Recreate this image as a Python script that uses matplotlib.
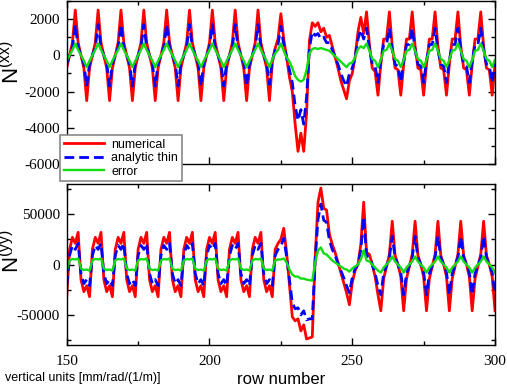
import numpy as np
import matplotlib.pyplot as plt
from matplotlib.ticker import MultipleLocator

plt.rcParams['font.family'] = 'Liberation Sans'
plt.rcParams['mathtext.fontset'] = 'custom'
plt.rcParams['mathtext.rm'] = 'Liberation Sans'
plt.rcParams['axes.unicode_minus'] = False

# row numbers along the x axis
rows = np.arange(150, 301)

# N(xx), top panel
nxx_numerical = [
    -700,
    0, 700, 2500, 700, 0, -700, -2500, -700,
    0, 700, 2500, 700, 0, -700, -2500, -700,
    0, 700, 2500, 700, 0, -700, -2500, -700,
    0, 700, 2500, 700, 0, -700, -2500, -700,
    0, 700, 2500, 700, 0, -700, -2500, -700,
    0, 700, 2500, 700, 0, -700, -2500, -700,
    0, 700, 2500, 700, 0, -700, -2500, -700,
    0, 700, 2500, 700, 0, -700, -2500, -700,
    0, 700, 2500, 700,
    0, -700, -2500, -400, 400, 900, 2300, 900,
    -100, -1200, -2000, -3800, -5300, -4300, -5300, -3200, 800,
    1800, 1600, 1800, 1300, 1500, 1000, 1100, 500, -100, -700, -1400, -1900, -2400, -1400,
    -1000, -100, 1300, 2100, 1200, 2400, 600, -700, -900,
    -2200, -500, 900, 900, 2400, 500, -700, -800,
    -2200, -500, 900, 900, 2400, 500, -700, -800,
    -2200, -500, 900, 900, 2400, 500, -700, -800,
    -2200, -500, 900, 900, 2400, 500, -700, -800,
    -2200, -500, 900, 900, 2400, 500, -700, -800,
    -2200, -500,
]
nxx_thin = [
    -450,
    0, 450, 1700, 450, 0, -450, -1700, -450,
    0, 450, 1700, 450, 0, -450, -1700, -450,
    0, 450, 1700, 450, 0, -450, -1700, -450,
    0, 450, 1700, 450, 0, -450, -1700, -450,
    0, 450, 1700, 450, 0, -450, -1700, -450,
    0, 450, 1700, 450, 0, -450, -1700, -450,
    0, 450, 1700, 450, 0, -450, -1700, -450,
    0, 450, 1700, 450, 0, -450, -1700, -450,
    0, 450, 1700, 450,
    0, -450, -1600, -300, 300, 600, 1600, 600,
    -100, -800, -1500, -2800, -3600, -3000, -3800, -2300, 400,
    1300, 1100, 1200, 900, 1000, 700, 700, 300, -100, -500, -1000, -1400, -1700, -1000,
    -700, -100, 900, 1400, 900, 1500, 400, -500, -600,
    -1500, -300, 600, 600, 1500, 300, -500, -600,
    -1500, -300, 600, 600, 1500, 300, -500, -600,
    -1500, -300, 600, 600, 1500, 300, -500, -600,
    -1500, -300, 600, 600, 1500, 300, -500, -600,
    -1500, -300, 600, 600, 1500, 300, -500, -600,
    -1500, -300,
]
nxx_error = [
    -300,
    0, 300, 650, 300, 0, -300, -650, -300,
    0, 300, 650, 300, 0, -300, -650, -300,
    0, 300, 650, 300, 0, -300, -650, -300,
    0, 300, 650, 300, 0, -300, -650, -300,
    0, 300, 650, 300, 0, -300, -650, -300,
    0, 300, 650, 300, 0, -300, -650, -300,
    0, 300, 650, 300, 0, -300, -650, -300,
    0, 300, 650, 300, 0, -300, -650, -300,
    0, 300, 650, 300,
    0, -300, -650, -200, 100, 300, 650, 250,
    -100, -350, -700, -1150, -1350, -1450, -1350, -800, 100,
    350, 400, 350, 400, 350, 300, 250, 100, -50, -200, -350, -500, -650, -450,
    -400, -100, 350, 500, 400, 650, 250, -200, -300,
    -650, -250, 250, 300, 650, 250, -200, -300,
    -650, -250, 250, 300, 650, 250, -200, -300,
    -650, -250, 250, 300, 650, 250, -200, -300,
    -650, -250, 250, 300, 650, 250, -200, -300,
    -650, -250, 250, 300, 650, 250, -200, -300,
    -650, -250,
]

# N(yy), bottom panel
nyy_numerical = [
    -32000,
    15000, 27000, 21000, 32000, -15000, -27000, -21000, -32000,
    15000, 27000, 21000, 32000, -15000, -27000, -21000, -32000,
    15000, 27000, 21000, 32000, -15000, -27000, -21000, -32000,
    15000, 27000, 21000, 32000, -15000, -27000, -21000, -32000,
    15000, 27000, 21000, 32000, -15000, -27000, -21000, -32000,
    15000, 27000, 21000, 32000, -15000, -27000, -21000, -32000,
    15000, 27000, 21000, 32000, -15000, -27000, -21000, -32000,
    15000, 27000, 21000, 32000, -15000, -27000, -21000, -32000,
    15000, 27000, 21000, 32000,
    -15000, -27000, -21000, -32000, 15000, 21000, 25000, 36000,
    12000, -20000, -52000, -56000, -54000, -66000, -60000, -74000, -73000, -72000,
    6000, 62000, 76000, 56000, 54000, 30000, 20000, 12000, 2000, -8000, -18000, -28000, -40000,
    -18000, -6000, 0, 20000, 62000, 12000, 10000, 0, -12000, -30000,
    -46000, -14000, -2000, 10000, 43000, 9000, 0, -12000,
    -46000, -14000, -2000, 10000, 43000, 9000, 0, -12000,
    -46000, -14000, -2000, 10000, 43000, 9000, 0, -12000,
    -46000, -14000, -2000, 10000, 43000, 9000, 0, -12000,
    -46000, -14000, -2000, 10000, 43000, 9000, 0, -12000,
    -46000,
]
nyy_thin = [
    -21000,
    9000, 19000, 15000, 21000, -9000, -19000, -15000, -21000,
    9000, 19000, 15000, 21000, -9000, -19000, -15000, -21000,
    9000, 19000, 15000, 21000, -9000, -19000, -15000, -21000,
    9000, 19000, 15000, 21000, -9000, -19000, -15000, -21000,
    9000, 19000, 15000, 21000, -9000, -19000, -15000, -21000,
    9000, 19000, 15000, 21000, -9000, -19000, -15000, -21000,
    9000, 19000, 15000, 21000, -9000, -19000, -15000, -21000,
    9000, 19000, 15000, 21000, -9000, -19000, -15000, -21000,
    9000, 19000, 15000, 21000,
    -9000, -19000, -15000, -21000, 9000, 15000, 18000, 26000,
    8000, -15000, -38000, -44000, -43000, -50000, -46000, -55000, -54000, -54000,
    4000, 45000, 60000, 44000, 42000, 24000, 15000, 9000, 1000, -6000, -13000, -21000, -28000,
    -13000, -4000, 0, 15000, 47000, 9000, 7000, 0, -9000, -21000,
    -30000, -9000, -1000, 7000, 28000, 7000, 0, -8000,
    -30000, -9000, -1000, 7000, 28000, 7000, 0, -8000,
    -30000, -9000, -1000, 7000, 28000, 7000, 0, -8000,
    -30000, -9000, -1000, 7000, 28000, 7000, 0, -8000,
    -30000, -9000, -1000, 7000, 28000, 7000, 0, -8000,
    -30000,
]
nyy_error = [
    -6000,
    4000, 5500, 5000, 6000, -4000, -5500, -5000, -6000,
    4000, 5500, 5000, 6000, -4000, -5500, -5000, -6000,
    4000, 5500, 5000, 6000, -4000, -5500, -5000, -6000,
    4000, 5500, 5000, 6000, -4000, -5500, -5000, -6000,
    4000, 5500, 5000, 6000, -4000, -5500, -5000, -6000,
    4000, 5500, 5000, 6000, -4000, -5500, -5000, -6000,
    4000, 5500, 5000, 6000, -4000, -5500, -5000, -6000,
    4000, 5500, 5000, 6000, -4000, -5500, -5000, -6000,
    4000, 5500, 5000, 6000,
    -4000, -5500, -5000, -6000, 4000, 5000, 5000, 6000,
    2000, -5000, -10000, -12000, -12000, -14000, -14000, -15000, -15500, -16000,
    2000, 14000, 17000, 11000, 10000, 7000, 4000, 2000, 0, -2000, -4000, -5000, -7000,
    -4000, -2000, 0, 5000, 14000, 4000, 3000, 0, -3000, -6000,
    -8000, -3000, 0, 3000, 8000, 3000, 0, -3000,
    -8000, -3000, 0, 3000, 8000, 3000, 0, -3000,
    -8000, -3000, 0, 3000, 8000, 3000, 0, -3000,
    -8000, -3000, 0, 3000, 8000, 3000, 0, -3000,
    -8000, -3000, 0, 3000, 8000, 3000, 0, -3000,
    -8000,
]

series_labels = ['numerical', 'analytic thin', 'error']

red = '#ff0000'
blue = '#0000ff'
green = '#11dd11'

fig = plt.figure(figsize=(5.07, 3.87), dpi=100)
ax1 = fig.add_axes([0.1316, 0.5762, 0.8448, 0.4212])
ax2 = fig.add_axes([0.1316, 0.1085, 0.8448, 0.416])

for ax, num, thin, err in [(ax1, nxx_numerical, nxx_thin, nxx_error),
                           (ax2, nyy_numerical, nyy_thin, nyy_error)]:
    ax.plot(rows, num, color=red, lw=2.0, label=series_labels[0])
    ax.plot(rows, thin, color=blue, lw=2.0, dashes=(3.5, 1.8), label=series_labels[1])
    ax.plot(rows, err, color=green, lw=1.7, label=series_labels[2])
    ax.set_xlim(150, 300)
    ax.xaxis.set_major_locator(MultipleLocator(50))
    ax.xaxis.set_minor_locator(MultipleLocator(25))
    ax.tick_params(which='both', direction='in', top=True, right=True, width=1)
    ax.tick_params(which='major', length=5, pad=5)
    ax.tick_params(which='minor', length=3)
    for s in ax.spines.values():
        s.set_linewidth(1.0)

ax1.set_ylim(-6000, 3000)
ax1.yaxis.set_major_locator(MultipleLocator(2000))
ax1.yaxis.set_minor_locator(MultipleLocator(1000))
ax1.tick_params(labelbottom=False)

ax2.set_ylim(-80000, 80000)
ax2.yaxis.set_major_locator(MultipleLocator(50000))
ax2.yaxis.set_minor_locator(MultipleLocator(25000))
ax2.tick_params(axis='x', pad=7)

# serif tick labels, as in the original
for ax in (ax1, ax2):
    for lab in ax.get_xticklabels() + ax.get_yticklabels():
        lab.set_fontfamily('Liberation Serif')
        lab.set_fontsize(11)

fig.text(12 / 507, 1 - 62 / 387, r'N$^{\mathrm{(xx)}}$', rotation=90,
         ha='center', va='center', fontsize=16)
fig.text(12 / 507, 1 - 251 / 387, r'N$^{\mathrm{(yy)}}$', rotation=90,
         ha='center', va='center', fontsize=16)

fig.text(281 / 507, 1 - 380 / 387, 'row number', ha='center', va='center', fontsize=12)
fig.text(5 / 507, 1 - 378 / 387, 'vertical units [mm/rad/(1/m)]',
         ha='left', va='center', fontsize=9)

leg = ax1.legend(loc='upper left', bbox_to_anchor=(60 / 507, 1 - 135 / 387),
                 bbox_transform=fig.transFigure, fancybox=False, framealpha=1,
                 edgecolor='#888888', borderaxespad=0, fontsize=9,
                 handlelength=3.2, handletextpad=0.6, borderpad=0.3,
                 labelspacing=0.12)
leg.get_frame().set_linewidth(1.2)

fig.savefig('out.png', dpi=100)
